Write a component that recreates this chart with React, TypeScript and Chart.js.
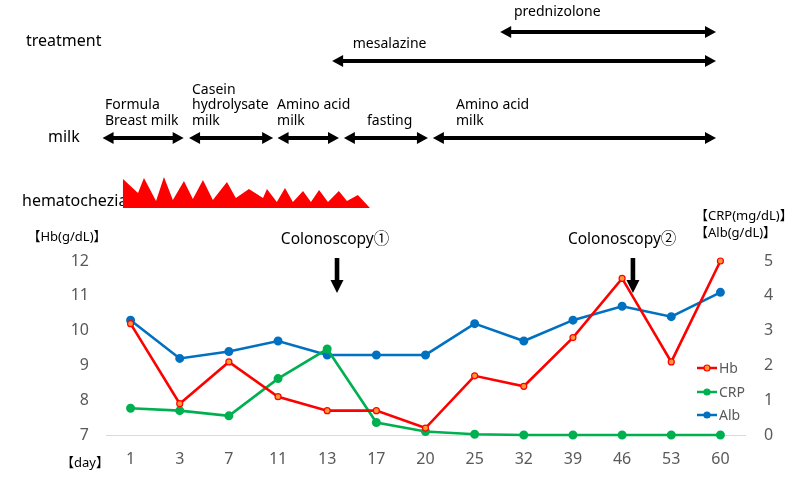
import React, { useEffect, useRef } from "react";
import { Chart, registerables } from "chart.js";
Chart.register(...registerables);

// ---- data ----
const days = ["1", "3", "7", "11", "13", "17", "20", "25", "32", "39", "46", "53", "60"];
const hbValues = [10.2, 7.9, 9.1, 8.1, 7.7, 7.7, 7.2, 8.7, 8.4, 9.8, 11.5, 9.1, 12.0];
const crpValues = [0.77, 0.7, 0.55, 1.62, 2.47, 0.36, 0.1, 0.02, 0, 0, 0, 0, 0];
const albValues = [3.3, 2.2, 2.4, 2.7, 2.3, 2.3, 2.3, 3.2, 2.7, 3.3, 3.7, 3.4, 4.1];
const hbRange = [7, 12];
const rightRange = [0, 5];

// treatment / milk periods in category-index units
const treatments = [
  { label: "prednizolone", from: 7.52, to: 11.91, labelAt: 7.8, row: 0 },
  { label: "mesalazine", from: 4.1, to: 11.91, labelAt: 4.52, row: 1 },
];
const milks = [
  { lines: ["Formula", "Breast milk"], from: -0.57, to: 1.08, labelAt: -0.52 },
  { lines: ["Casein", "hydrolysate", "milk"], from: 1.19, to: 2.9, labelAt: 1.25 },
  { lines: ["Amino acid", "milk"], from: 2.99, to: 4.24, labelAt: 2.98 },
  { lines: ["fasting"], from: 4.34, to: 6.05, labelAt: 4.81 },
  { lines: ["Amino acid", "milk"], from: 6.15, to: 11.91, labelAt: 6.62 },
];
const colonoscopies = [
  { label: "Colonoscopy\u2460", at: 4.2, labelAt: 4.16 },
  { label: "Colonoscopy\u2461", at: 10.22, labelAt: 10.0 },
];
// hematochezia span (index units) and profile: [fraction of span, relative height]
const hematocheziaSpan = [-0.155, 4.87];
const hematocheziaProfile = [
  [0, 0], [0, 29], [0.061, 15], [0.085, 30], [0.134, 7], [0.166, 31], [0.202, 8],
  [0.247, 27], [0.283, 9], [0.324, 28], [0.364, 8], [0.421, 26], [0.457, 10],
  [0.51, 19], [0.567, 10], [0.583, 19], [0.623, 6], [0.656, 20], [0.688, 6],
  [0.729, 17], [0.761, 6], [0.794, 18], [0.83, 6], [0.874, 17], [0.907, 7],
  [0.951, 13], [1, 0],
];

const FONT = '"Noto Sans", "Noto Sans CJK JP", sans-serif';
const RED = "#FF0000";
const GREEN = "#00B050";
const BLUE = "#0070C0";
const GRAY = "#595959";

function dblArrow(ctx: CanvasRenderingContext2D, x1: number, x2: number, y: number) {
  const hl = 11, hh = 6;
  ctx.save();
  ctx.fillStyle = "#000";
  ctx.fillRect(x1 + hl - 1, y - 2, x2 - x1 - 2 * hl + 2, 4);
  ctx.beginPath();
  ctx.moveTo(x1, y);
  ctx.lineTo(x1 + hl, y - hh);
  ctx.lineTo(x1 + hl, y + hh);
  ctx.closePath();
  ctx.fill();
  ctx.beginPath();
  ctx.moveTo(x2, y);
  ctx.lineTo(x2 - hl, y - hh);
  ctx.lineTo(x2 - hl, y + hh);
  ctx.closePath();
  ctx.fill();
  ctx.restore();
}

function downArrow(ctx: CanvasRenderingContext2D, x: number, y1: number, y2: number) {
  const hl = 13, hw = 6.5;
  ctx.save();
  ctx.fillStyle = "#000";
  ctx.fillRect(x - 2.3, y1, 4.6, y2 - y1 - hl + 1);
  ctx.beginPath();
  ctx.moveTo(x, y2);
  ctx.lineTo(x - hw, y2 - hl);
  ctx.lineTo(x + hw, y2 - hl);
  ctx.closePath();
  ctx.fill();
  ctx.restore();
}

const annotations = {
  id: "annotations",
  afterDraw(chart: any) {
    const ctx: CanvasRenderingContext2D = chart.ctx;
    const xs = chart.scales.x;
    const px = (i: number) => xs.getPixelForValue(i);
    ctx.save();
    ctx.textBaseline = "middle";
    ctx.textAlign = "left";
    ctx.fillStyle = "#000";

    // row titles
    ctx.font = `16px ${FONT}`;
    ctx.fillText("treatment", 26, 41);
    ctx.fillText("milk", 48, 137);
    ctx.fillText("hematochezia", 22, 201);

    // treatments
    const treatY = [32, 61];
    const treatLabelY = [12, 44];
    ctx.font = `14px ${FONT}`;
    treatments.forEach((t) => {
      dblArrow(ctx, px(t.from), px(t.to), treatY[t.row]);
      ctx.fillText(t.label, px(t.labelAt), treatLabelY[t.row]);
    });

    // milks
    milks.forEach((m) => {
      dblArrow(ctx, px(m.from), px(m.to), 138);
      const n = m.lines.length;
      m.lines.forEach((ln, k) => {
        ctx.fillText(ln, px(m.labelAt), 121 - (n - 1 - k) * 15.5);
      });
    });

    // hematochezia
    const hx1 = px(hematocheziaSpan[0]);
    const hx2 = px(hematocheziaSpan[1]);
    const base = 208;
    ctx.fillStyle = RED;
    ctx.beginPath();
    hematocheziaProfile.forEach(([f, h], k) => {
      const x = hx1 + f * (hx2 - hx1);
      const y = base - h;
      if (k === 0) ctx.moveTo(x, y);
      else ctx.lineTo(x, y);
    });
    ctx.closePath();
    ctx.fill();

    // colonoscopy
    ctx.fillStyle = "#000";
    ctx.textAlign = "center";
    ctx.font = `15.5px ${FONT}`;
    colonoscopies.forEach((c) => {
      ctx.fillText(c.label, px(c.labelAt), 240);
      downArrow(ctx, px(c.at), 258, 293);
    });

    // axis titles
    ctx.font = `13px ${FONT}`;
    ctx.textAlign = "center";
    ctx.fillText("\u3010Hb(g/dL)\u3011", 67, 237);
    ctx.fillText("\u3010day\u3011", 85, 463);
    ctx.textAlign = "left";
    ctx.fillText("\u3010CRP(mg/dL)\u3011", 695, 216);
    ctx.fillText("\u3010Alb(g/dL)\u3011", 695, 233);

    // legend
    const items = [
      { label: "Hb", color: RED, fill: "#FF9933", y: 368 },
      { label: "CRP", color: GREEN, fill: GREEN, y: 392 },
      { label: "Alb", color: BLUE, fill: BLUE, y: 415 },
    ];
    ctx.font = `14px ${FONT}`;
    items.forEach((it) => {
      ctx.strokeStyle = it.color;
      ctx.lineWidth = 2.5;
      ctx.beginPath();
      ctx.moveTo(697, it.y);
      ctx.lineTo(717, it.y);
      ctx.stroke();
      ctx.beginPath();
      ctx.arc(707, it.y, 3, 0, Math.PI * 2);
      ctx.fillStyle = it.fill;
      ctx.fill();
      ctx.lineWidth = 1.2;
      ctx.stroke();
      ctx.fillStyle = GRAY;
      ctx.fillText(it.label, 719, it.y + 1);
    });
    ctx.restore();
  },
};

export default function App() {
  const ref = useRef<HTMLCanvasElement>(null);
  useEffect(() => {
    document.body.style.margin = "0";
    const chart = new Chart(ref.current!, {
      type: "line",
      data: {
        labels: days,
        datasets: [
          {
            label: "Hb",
            data: hbValues,
            yAxisID: "y",
            borderColor: RED,
            backgroundColor: RED,
            borderWidth: 2.6,
            pointRadius: 3,
            pointBorderWidth: 1.2,
            pointBackgroundColor: "#FF9933",
            pointBorderColor: RED,
            tension: 0,
            clip: false,
          },
          {
            label: "CRP",
            data: crpValues,
            yAxisID: "y1",
            borderColor: GREEN,
            backgroundColor: GREEN,
            borderWidth: 2.6,
            pointRadius: 3.2,
            pointBackgroundColor: GREEN,
            pointBorderColor: GREEN,
            tension: 0,
            clip: false,
          },
          {
            label: "Alb",
            data: albValues,
            yAxisID: "y1",
            borderColor: BLUE,
            backgroundColor: BLUE,
            borderWidth: 2.6,
            pointRadius: 3.2,
            pointBackgroundColor: BLUE,
            pointBorderColor: BLUE,
            tension: 0,
            clip: false,
          },
        ],
      },
      options: {
        responsive: false,
        animation: false,
        layout: { padding: { top: 261, left: 0, right: 0, bottom: 0 } },
        plugins: { legend: { display: false }, tooltip: { enabled: false } },
        scales: {
          x: {
            type: "category",
            offset: true,
            grid: { display: false, drawTicks: false },
            border: { display: true, color: "#D9D9D9", width: 1 },
            ticks: { color: GRAY, font: { family: FONT, size: 16 }, padding: 15 },
            afterFit: (s: any) => { s.height = 49; },
          },
          y: {
            position: "left",
            min: hbRange[0],
            max: hbRange[1],
            grid: { display: false, drawTicks: false },
            border: { display: false },
            ticks: { stepSize: 1, color: GRAY, font: { family: FONT, size: 16 }, padding: 17 },
            afterFit: (s: any) => { s.width = 106; },
          },
          y1: {
            position: "right",
            min: rightRange[0],
            max: rightRange[1],
            grid: { display: false, drawTicks: false },
            border: { display: false },
            ticks: { stepSize: 1, color: GRAY, font: { family: FONT, size: 16 }, padding: 19 },
            afterFit: (s: any) => { s.width = 55; },
          },
        },
      },
      plugins: [annotations],
    });
    return () => chart.destroy();
  }, []);
  return (
    <div style={{ position: "absolute", left: 0, top: 0, width: 800, height: 484, background: "#fff" }}>
      <canvas ref={ref} width={800} height={484} />
    </div>
  );
}
